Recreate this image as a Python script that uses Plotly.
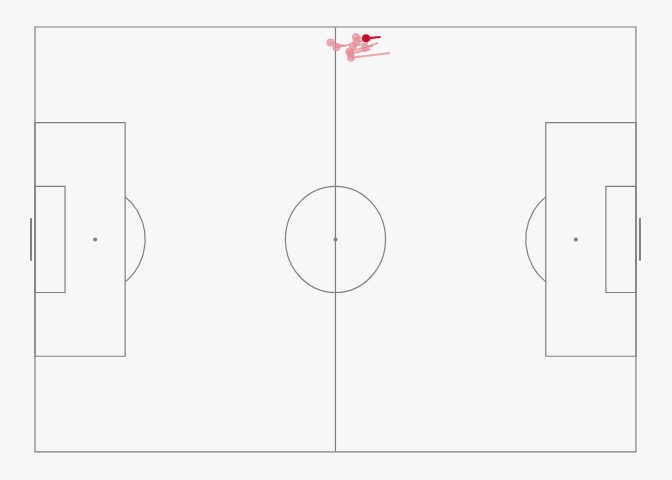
import numpy as np
import plotly.graph_objects as go

# passes (StatsBomb coords 120x80)
start_x = [59.0, 60.2, 64.1, 63.1, 63.5, 65.9, 62.8, 64.2, 63.0]
start_y = [2.9, 3.8, 1.9, 5.8, 3.6, 3.9, 4.6, 2.8, 5.0]
end_x   = [62.0, 63.0, 67.0, 70.9, 66.5, 68.5, 67.5, 68.0, 67.0]
end_y   = [3.6, 3.3, 2.5, 4.9, 3.0, 3.0, 3.5, 2.0, 4.2]
hl_start = (66.1, 2.1)
hl_end = (69.0, 1.9)

LC = "#808080"
fig = go.Figure()
shapes = []
def rect(x0, y0, x1, y1):
    shapes.append(dict(type="rect", x0=x0, y0=y0, x1=x1, y1=y1, line=dict(color=LC, width=1.2), layer="below"))
def line(x0, y0, x1, y1, w=1.2):
    shapes.append(dict(type="line", x0=x0, y0=y0, x1=x1, y1=y1, line=dict(color=LC, width=w), layer="below"))
rect(0, 0, 120, 80)
line(60, 0, 60, 80)
rect(0, 18, 18, 62); rect(102, 18, 120, 62)
rect(0, 30, 6, 50); rect(114, 30, 120, 50)
shapes.append(dict(type="circle", x0=50, y0=30, x1=70, y1=50, line=dict(color=LC, width=1.2), layer="below"))
line(-0.8, 36, -0.8, 44, 2); line(120.8, 36, 120.8, 44, 2)
for cx in (12, 60, 108):
    fig.add_trace(go.Scatter(x=[cx], y=[40], mode="markers", marker=dict(color=LC, size=4), hoverinfo="skip"))
t = np.linspace(-np.arccos(0.6), np.arccos(0.6), 60)
fig.add_trace(go.Scatter(x=12 + 10*np.cos(t), y=40 + 10*np.sin(t), mode="lines", line=dict(color=LC, width=1.2), hoverinfo="skip"))
fig.add_trace(go.Scatter(x=108 - 10*np.cos(t), y=40 + 10*np.sin(t), mode="lines", line=dict(color=LC, width=1.2), hoverinfo="skip"))

pink = "rgba(230,140,150,0.75)"
for sx, sy, ex, ey in zip(start_x, start_y, end_x, end_y):
    fig.add_trace(go.Scatter(x=[sx, ex], y=[sy, ey], mode="lines", line=dict(color=pink, width=2), hoverinfo="skip"))
fig.add_trace(go.Scatter(x=start_x, y=start_y, mode="markers", marker=dict(color=pink, size=8), hoverinfo="skip"))
fig.add_trace(go.Scatter(x=[hl_start[0], hl_end[0]], y=[hl_start[1], hl_end[1]], mode="lines", line=dict(color="#c8102e", width=2), hoverinfo="skip"))
fig.add_trace(go.Scatter(x=[hl_start[0]], y=[hl_start[1]], mode="markers", marker=dict(color="#c8102e", size=8), hoverinfo="skip"))

fig.update_layout(width=672, height=480, margin=dict(l=0, r=0, t=0, b=0),
                  paper_bgcolor="#f7f7f7", plot_bgcolor="#f7f7f7", showlegend=False, shapes=shapes)
fig.update_xaxes(range=[-6.99, 127.2], visible=False, fixedrange=True)
fig.update_yaxes(range=[85.3, -5.08], visible=False, fixedrange=True)
fig.write_html("out.html", config={"displayModeBar": False},
               post_script="document.body.style.margin='0';document.body.style.background='#f7f7f7';document.body.style.overflow='hidden';")
